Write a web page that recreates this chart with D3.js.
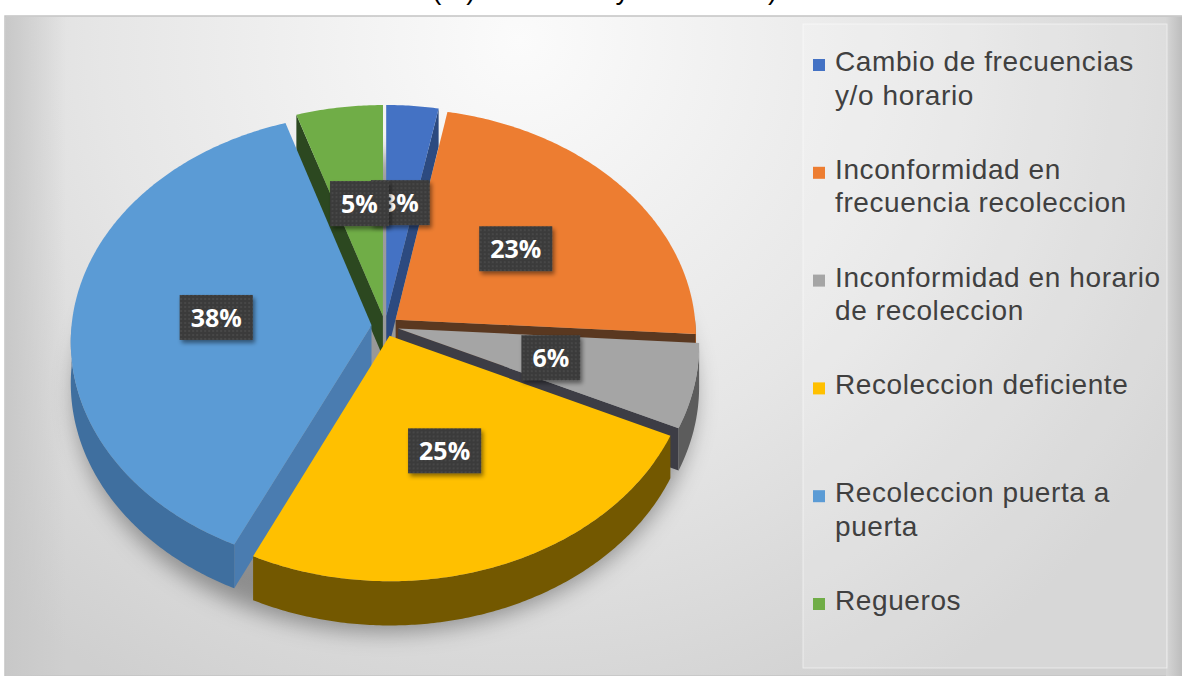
<!doctype html>
<html>
 <head>
 <meta charset="utf-8">
 <title>Quejas</title>
	<script src="https://d3js.org/d3.v7.min.js"></script>
	<style>
body {
    margin: 0;
    background: #fff;
    font-family: 'Liberation Sans', Arial, sans-serif;
	}
	</style>
  </head>
  <body>
    <div id="container"></div>
	 <script>

	 // data
	 var categories = ["Cambio de frecuencias\ny/o horario",
	                   "Inconformidad en\nfrecuencia recoleccion",
	                   "Inconformidad en horario\nde recoleccion",
	                   "Recoleccion deficiente",
	                   "Recoleccion puerta a\npuerta",
	                   "Regueros"];
	 var values = [3, 23, 6, 25, 38, 5];
	 var title = "(%) Reclamos y solicitudes)";

	 // colours: top face, outer side, cut face
	 var topColors  = ["#4472C4", "#ED7D31", "#A5A5A5", "#FFC000", "#5B9BD5", "#70AD47"];
	 var sideColors = ["#34589a", "#9a4f1c", "#5c5c5c", "#735800", "#3f6f9f", "#3f6b28"];
	 var cutColors  = ["#2c4a80", "#5a3820", "#3d3d45", "#5a4500", "#4a7cb0", "#2c4820"];

	 var width = 1182, height = 676;

	 var svg = d3.select("#container")
		.append("svg")
		.attr("width", width)
		.attr("height", height);

	 var defs = svg.append("defs");

	 var bg = defs.append("radialGradient").attr("id", "bg")
		.attr("gradientUnits", "userSpaceOnUse")
		.attr("cx", 520).attr("cy", 40).attr("r", 760);
	 bg.append("stop").attr("offset", "0").attr("stop-color", "#fbfbfb");
	 bg.append("stop").attr("offset", "0.55").attr("stop-color", "#e6e6e6");
	 bg.append("stop").attr("offset", "1").attr("stop-color", "#cfcfcf");

	 var edge = defs.append("linearGradient").attr("id", "edge");
	 edge.append("stop").attr("offset", "0").attr("stop-color", "#d6d6d6");
	 edge.append("stop").attr("offset", "1").attr("stop-color", "#bdbdbd");

	 var leftEdge = defs.append("linearGradient").attr("id", "leftEdge");
	 leftEdge.append("stop").attr("offset", "0").attr("stop-color", "#c8c8c8").attr("stop-opacity", 1);
	 leftEdge.append("stop").attr("offset", "1").attr("stop-color", "#c8c8c8").attr("stop-opacity", 0);

	 defs.append("filter").attr("id", "blur")
		.attr("x", "-20%").attr("y", "-20%").attr("width", "140%").attr("height", "140%")
		.append("feGaussianBlur").attr("stdDeviation", 11);

	 var ds = defs.append("filter").attr("id", "boxShadow")
		.attr("x", "-30%").attr("y", "-30%").attr("width", "160%").attr("height", "170%");
	 ds.append("feDropShadow").attr("dx", 2).attr("dy", 3).attr("stdDeviation", 2)
		.attr("flood-color", "#000").attr("flood-opacity", 0.45);

	 var dots = defs.append("pattern").attr("id", "dots")
		.attr("patternUnits", "userSpaceOnUse").attr("width", 4).attr("height", 4);
	 dots.append("rect").attr("width", 4).attr("height", 4).attr("fill", "#3b3b3b");
	 dots.append("circle").attr("cx", 1).attr("cy", 1).attr("r", 0.8).attr("fill", "#555");

	 // title line, cut off above the chart area as in the source picture
	 svg.append("text")
		.attr("x", 432).attr("y", -1)
		.attr("font-size", 28)
		.attr("fill", "#000")
		.text(title);

	 // chart area
	 svg.append("rect")
		.attr("x", 5).attr("y", 16)
		.attr("width", width - 5).attr("height", height - 16)
		.attr("fill", "url(#bg)")
		.attr("stroke", "#c4c4c4").attr("stroke-width", 1.5);
	 svg.append("rect")
		.attr("x", 6).attr("y", 17).attr("width", 60).attr("height", height - 17)
		.attr("fill", "url(#leftEdge)");
	 svg.append("rect")
		.attr("x", 1166).attr("y", 17).attr("width", 16).attr("height", height - 17)
		.attr("fill", "url(#edge)");

	 // legend panel
	 svg.append("rect")
		.attr("x", 803).attr("y", 24).attr("width", 364).attr("height", 644)
		.attr("fill", "#ffffff").attr("fill-opacity", 0.18)
		.attr("stroke", "#ffffff").attr("stroke-opacity", 0.5);

	 // 3d pie projection
	 var cx = 385, cy = 326, rx = 300, ry = 227, depth = 41, persp = 0.07, explode = 0.045;

	 function P(u, v, h) {
		var p = 1 / (1 + persp * v);
		return [cx + rx * u * p, cy + (-ry * v + depth * h) * p];
	 }

	 var arcs = d3.pie().sort(null).value(function(d){ return d; })(values);
	 var total = d3.sum(values);
	 var fmt = d3.format(".0%");

	 arcs.forEach(function(a, i){
		var mid = (a.startAngle + a.endAngle) / 2;
		a.i = i;
		a.ox = explode * Math.sin(mid);
		a.oy = explode * Math.cos(mid);
		a.mid = mid;
	 });

	 function rim(a, t0, t1, h, r) {
		var pts = [], n = Math.max(2, Math.ceil((t1 - t0) / 0.01));
		for (var j = 0; j <= n; j++) {
			var t = t0 + (t1 - t0) * j / n;
			pts.push(P(a.ox + r * Math.sin(t), a.oy + r * Math.cos(t), h));
		}
		return pts;
	 }

	 var line = d3.line();

	 // soft shadow under the pie
	 var shadowPts = [];
	 d3.range(0, 361, 2).forEach(function(deg){
		var t = deg * Math.PI / 180;
		var q = P(1.03 * Math.sin(t), 1.03 * Math.cos(t), 1);
		shadowPts.push([q[0], q[1] + 10]);
	 });
	 svg.append("path")
		.attr("d", line(shadowPts) + "Z")
		.attr("fill", "#000").attr("fill-opacity", 0.35)
		.attr("filter", "url(#blur)");

	 var pieG = svg.append("g");

	 // far slices first
	 var order = arcs.slice().sort(function(a, b){ return Math.cos(b.mid) - Math.cos(a.mid); });

	 order.forEach(function(a){
		var g = pieG.append("g");
		var apexT = P(a.ox, a.oy, 0), apexB = P(a.ox, a.oy, 1);

		// cut faces
		[["s", a.startAngle], ["e", a.endAngle]].forEach(function(f){
			var t = f[1];
			var visible = f[0] === "s" ? Math.sin(t) < -0.001 : Math.sin(t) > 0.001;
			if (!visible) return;
			var oT = P(a.ox + Math.sin(t), a.oy + Math.cos(t), 0);
			var oB = P(a.ox + Math.sin(t), a.oy + Math.cos(t), 1);
			g.append("path")
				.attr("d", line([apexT, oT, oB, apexB]) + "Z")
				.attr("fill", cutColors[a.i]);
		});

		// outer side, front half only
		var t0 = Math.max(a.startAngle, Math.PI / 2), t1 = Math.min(a.endAngle, 3 * Math.PI / 2);
		if (t1 > t0) {
			var up = rim(a, t0, t1, 0, 1), down = rim(a, t0, t1, 1, 1).reverse();
			g.append("path")
				.attr("d", line(up.concat(down)) + "Z")
				.attr("fill", sideColors[a.i]);
		}

		// top face
		g.append("path")
			.attr("d", line([apexT].concat(rim(a, a.startAngle, a.endAngle, 0, 1))) + "Z")
			.attr("fill", topColors[a.i]);
	 });

	 // data labels
	 var labelG = svg.append("g");
	 arcs.forEach(function(a){
		var pos = P(a.ox + 0.52 * Math.sin(a.mid), a.oy + 0.52 * Math.cos(a.mid), 0);
		var g = labelG.append("g").attr("transform", "translate(" + pos[0] + "," + pos[1] + ")");
		var box = g.append("rect").attr("filter", "url(#boxShadow)").attr("fill", "url(#dots)");
		var txt = g.append("text")
			.attr("text-anchor", "middle")
			.attr("dy", "0.36em")
			.attr("font-family", "'Open Sans', sans-serif")
			.attr("font-weight", "bold")
			.attr("font-size", 25)
			.attr("fill", "#fff")
			.text(fmt(a.value / total));
		var w = txt.node().getComputedTextLength() + 22;
		box.attr("x", -w / 2).attr("y", -23).attr("width", w).attr("height", 45);
	 });

	 // legend
	 var legend = svg.append("g");
	 categories.forEach(function(c, i){
		var y = 71 + i * 107.8;
		legend.append("rect")
			.attr("x", 813).attr("y", y - 12).attr("width", 12).attr("height", 12)
			.attr("fill", topColors[i]);
		var t = legend.append("text")
			.attr("x", 835).attr("y", y)
			.attr("font-size", 28)
			.attr("letter-spacing", 0.6)
			.attr("fill", "#404040");
		c.split("\n").forEach(function(l, j){
			t.append("tspan").attr("x", 835).attr("y", y + j * 33.5).text(l);
		});
	 });

	</script>
  </body>
</html>
